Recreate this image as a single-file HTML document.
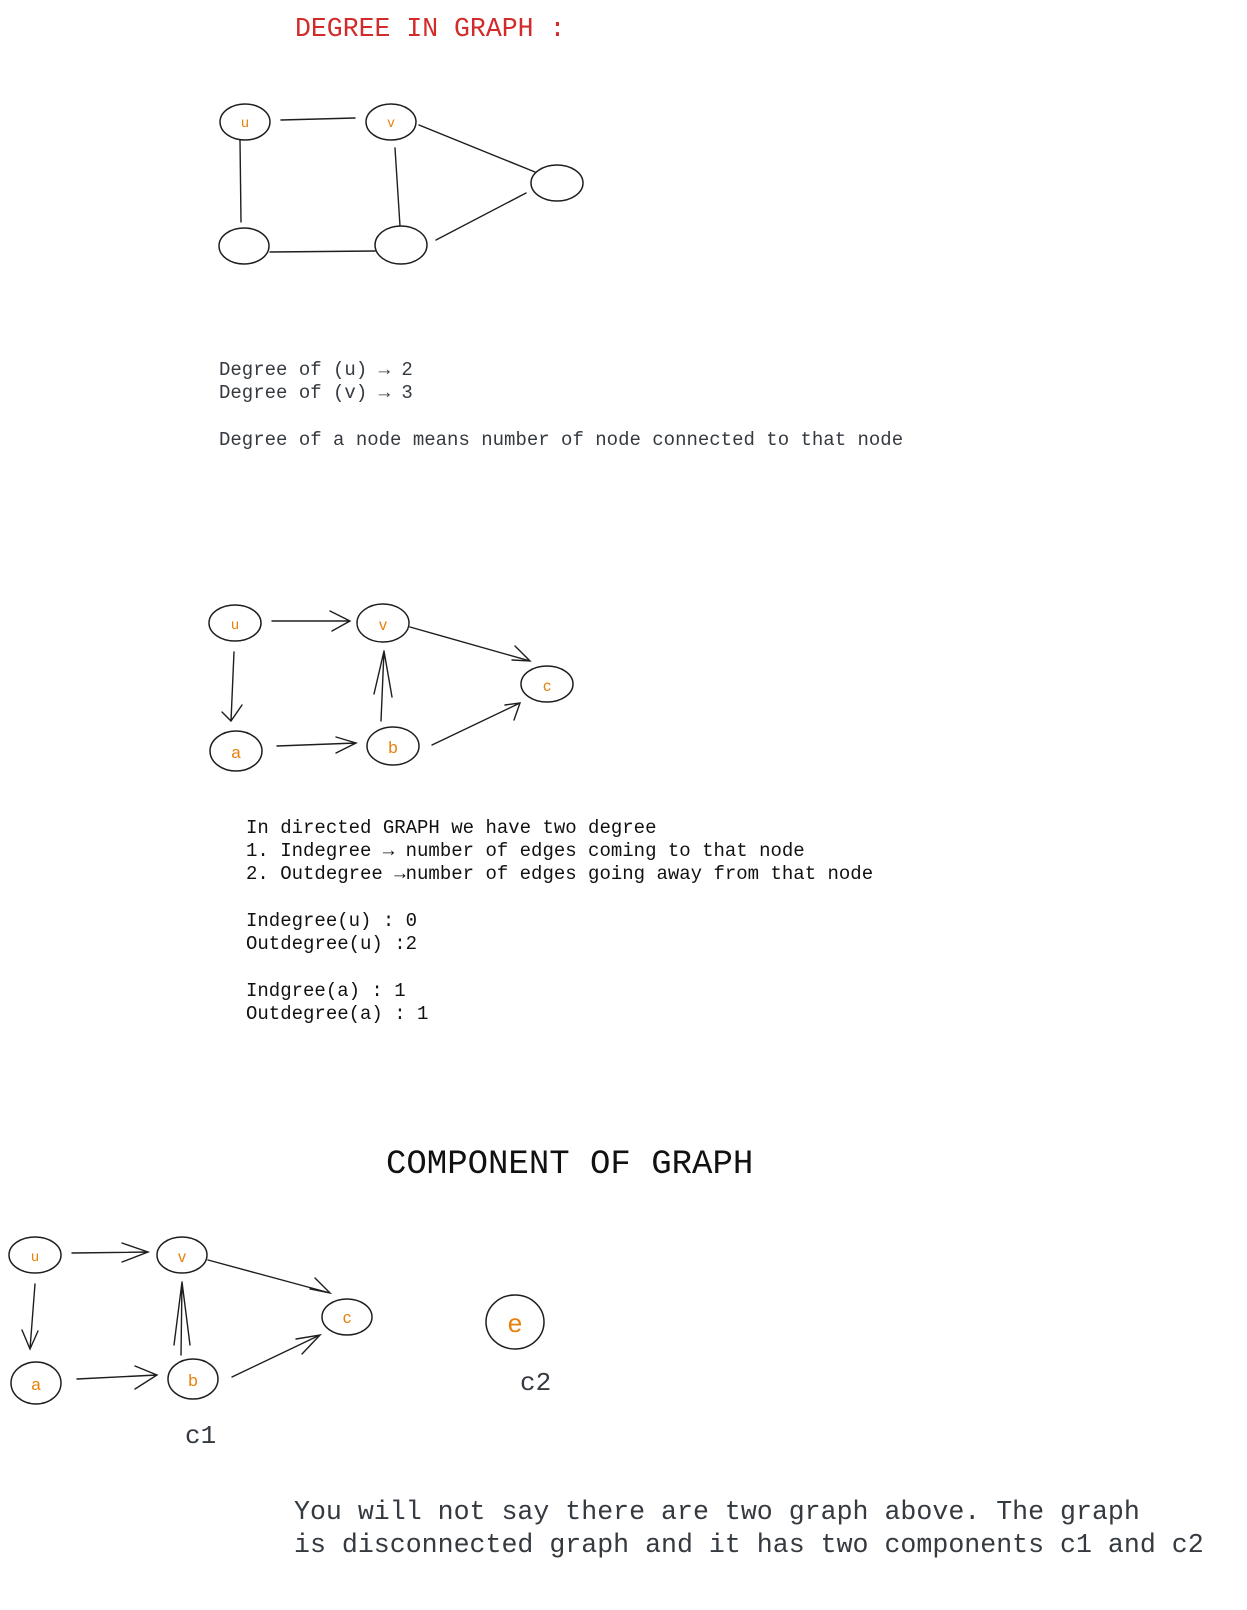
<!DOCTYPE html>
<html><head><meta charset="utf-8"><style>
html,body{margin:0;padding:0;background:#fff;width:1247px;height:1610px;overflow:hidden;}
svg{display:block;position:absolute;left:0;top:0}
.n{fill:none;stroke:#1e1e1e;stroke-width:1.5}
.e{fill:none;stroke:#1e1e1e;stroke-width:1.4;stroke-linecap:round}
.l{fill:#e8800c;font-family:"Liberation Sans",sans-serif;text-anchor:middle}
.m{font-family:"Liberation Mono",monospace;fill:#343a40}
</style></head><body>
<svg width="1247" height="1610" viewBox="0 0 1247 1610" xmlns="http://www.w3.org/2000/svg">
<text x="295" y="36" class="m" style="fill:#d22b2b;font-size:26.5px">DEGREE IN GRAPH :</text>
<ellipse class="n" cx="245" cy="122" rx="25" ry="18"/>
<ellipse class="n" cx="391" cy="122" rx="25" ry="18"/>
<ellipse class="n" cx="557" cy="183" rx="26" ry="18"/>
<ellipse class="n" cx="244" cy="246" rx="25" ry="18"/>
<ellipse class="n" cx="401" cy="245" rx="26" ry="19"/>
<text class="l" x="245" y="127" font-size="14">u</text>
<text class="l" x="391" y="127" font-size="14">v</text>
<path class="e" d="M281 120 L355 118 M240 140 L241 222 M395 148 L400 226 M419 125 L535 172 M436 240 L526 193 M270 252 L375 251"/>
<g class="m" style="font-size:19px">
<text x="219" y="375">Degree of (u) → 2</text>
<text x="219" y="398">Degree of (v) → 3</text>
<text x="219" y="445">Degree of a node means number of node connected to that node</text>
</g>
<ellipse class="n" cx="235" cy="623" rx="26" ry="18"/>
<ellipse class="n" cx="383" cy="623" rx="26" ry="19"/>
<ellipse class="n" cx="547" cy="684" rx="26" ry="18"/>
<ellipse class="n" cx="236" cy="751" rx="26" ry="20"/>
<ellipse class="n" cx="393" cy="746" rx="26" ry="19"/>
<text class="l" x="235" y="629" font-size="14">u</text>
<text class="l" x="383" y="630" font-size="16">v</text>
<text class="l" x="547" y="691" font-size="16">c</text>
<text class="l" x="236" y="758" font-size="17">a</text>
<text class="l" x="393" y="753" font-size="17">b</text>
<path class="e" d="M272 621 L350 621 M330 611 L350 621 L332 631"/>
<path class="e" d="M410 627 L530 661 M512 660 L530 661 L515 646"/>
<path class="e" d="M234 652 L231 721 M222 712 L231 721 L242 705"/>
<path class="e" d="M381 721 L384 651 M374 694 L384 651 L392 697"/>
<path class="e" d="M277 746 L356 743 M336 753 L356 743 L336 737"/>
<path class="e" d="M432 745 L520 703 M505 705 L520 703 L514 720"/>
<g style="font-family:'Liberation Mono',monospace;font-size:19px;fill:#111">
<text x="246" y="833">In directed GRAPH we have two degree</text>
<text x="246" y="856">1. Indegree → number of edges coming to that node</text>
<text x="246" y="879">2. Outdegree →number of edges going away from that node</text>
<text x="246" y="926">Indegree(u) : 0</text>
<text x="246" y="949">Outdegree(u) :2</text>
<text x="246" y="996">Indgree(a) : 1</text>
<text x="246" y="1019">Outdegree(a) : 1</text>
</g>
<text x="386" y="1173" style="font-family:'Liberation Mono',monospace;font-size:34px;fill:#111">COMPONENT OF GRAPH</text>
<ellipse class="n" cx="35" cy="1255" rx="26" ry="18"/>
<ellipse class="n" cx="182" cy="1255" rx="25" ry="18"/>
<ellipse class="n" cx="347" cy="1317" rx="25" ry="18"/>
<ellipse class="n" cx="36" cy="1383" rx="25" ry="21"/>
<ellipse class="n" cx="193" cy="1379" rx="25" ry="20"/>
<ellipse class="n" cx="515" cy="1322" rx="29" ry="27"/>
<text class="l" x="35" y="1261" font-size="14">u</text>
<text class="l" x="182" y="1262" font-size="16">v</text>
<text class="l" x="347" y="1323" font-size="17">c</text>
<text class="l" x="36" y="1390" font-size="17">a</text>
<text class="l" x="193" y="1386" font-size="17">b</text>
<text class="l" x="515" y="1332" font-size="26">e</text>
<path class="e" d="M72 1253 L148 1252 M122 1243 L148 1252 L122 1262"/>
<path class="e" d="M208 1260 L330 1293 M310 1289 L330 1293 L315 1278"/>
<path class="e" d="M35 1284 L30 1349 M22 1330 L30 1349 L38 1331"/>
<path class="e" d="M181 1355 L182 1282 M174 1345 L182 1282 L190 1345"/>
<path class="e" d="M77 1379 L157 1375 M135 1389 L157 1375 L135 1366"/>
<path class="e" d="M232 1377 L320 1335 M296 1339 L320 1335 L302 1354"/>
<text x="185" y="1443" class="m" style="font-size:26px">c1</text>
<text x="520" y="1390" class="m" style="font-size:26px">c2</text>
<text x="294" y="1519" class="m" style="font-size:26.6px">You will not say there are two graph above. The graph</text>
<text x="294" y="1552" class="m" style="font-size:26.6px">is disconnected graph and it has two components c1 and c2</text>
</svg>
</body></html>
